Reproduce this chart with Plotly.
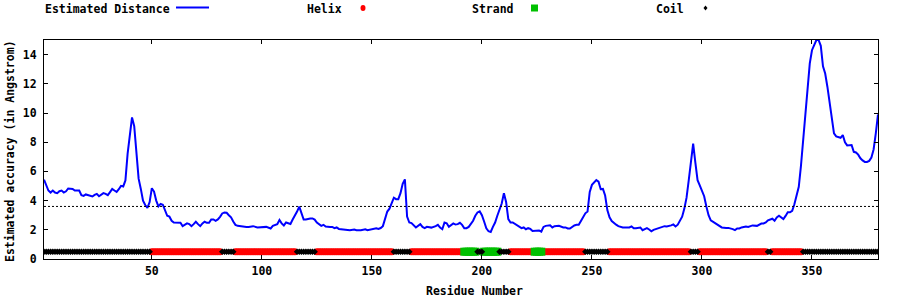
import plotly.graph_objects as go

# ---------------- data ----------------
RESIDUES = [
    1, 2, 3, 4, 5, 6, 7, 8, 9, 10, 11, 12, 14, 15, 16, 17, 18, 19, 20, 22, 23, 24, 25, 26, 27, 28, 29, 30,
    31, 32, 33, 34, 35, 36, 37, 38, 39, 40, 41, 42, 43, 44, 45, 46, 47, 48, 49, 50, 51, 52, 53, 54, 55, 56,
    57, 58, 59, 60, 62, 63, 64, 65, 66, 67, 68, 69, 70, 71, 72, 73, 74, 75, 76, 77, 78, 79, 80, 81, 82, 83,
    84, 85, 86, 87, 88, 89, 90, 91, 92, 93, 94, 96, 98, 101, 102, 104, 105, 107, 108, 109, 110, 111, 112,
    113, 114, 115, 116, 117, 118, 119, 120, 121, 122, 123, 124, 125, 126, 127, 128, 129, 131, 132, 133, 134,
    135, 137, 139, 140, 142, 143, 145, 146, 147, 148, 150, 151, 152, 153, 154, 155, 156, 157, 158, 159, 160,
    161, 162, 163, 164, 165, 166, 167, 168, 170, 171, 172, 173, 174, 175, 177, 179, 180, 181, 182, 183, 184,
    185, 186, 187, 188, 189, 190, 191, 192, 193, 194, 195, 196, 197, 198, 199, 200, 201, 202, 203, 204, 205,
    206, 207, 208, 209, 210, 211, 212, 213, 214, 215, 216, 217, 218, 219, 220, 221, 222, 223, 225, 226, 227,
    228, 229, 231, 232, 233, 235, 236, 237, 238, 239, 240, 242, 243, 244, 245, 246, 247, 248, 249, 250, 251,
    252, 253, 254, 255, 256, 257, 258, 259, 260, 261, 262, 263, 264, 266, 267, 268, 269, 270, 272, 273, 274,
    275, 276, 277, 278, 279, 281, 282, 283, 284, 285, 286, 287, 288, 289, 290, 291, 292, 293, 294, 295, 296,
    297, 298, 299, 300, 301, 302, 303, 304, 305, 306, 307, 308, 309, 311, 312, 314, 315, 316, 317, 318, 320,
    321, 322, 323, 325, 327, 328, 329, 330, 332, 333, 334, 335, 336, 337, 338, 339, 340, 341, 342, 343, 344,
    345, 346, 347, 348, 349, 350, 351, 352, 353, 354, 355, 356, 357, 358, 359, 360, 361, 362, 363, 364, 365,
    366, 367, 368, 369, 370, 371, 372, 373, 374, 375, 376, 377, 378, 379, 380,
]
DISTANCE = [
    5.43, 5.04, 4.69, 4.55, 4.69, 4.55, 4.51, 4.64, 4.69, 4.55, 4.64, 4.83, 4.80, 4.69, 4.69, 4.69, 4.37, 4.32,
    4.42, 4.35, 4.28, 4.39, 4.46, 4.30, 4.39, 4.51, 4.46, 4.37,
    4.58, 4.80, 4.69, 4.60, 4.78, 5.01, 4.97, 5.38, 7.22, 8.40, 9.70, 9.10, 7.20, 5.50, 4.80, 4.00, 3.70, 3.50,
    3.90, 4.85, 4.62, 4.00, 3.60, 3.77, 3.72, 3.30,
    2.96, 2.90, 2.62, 2.50, 2.48, 2.48, 2.25, 2.34, 2.44, 2.39, 2.25, 2.39, 2.55, 2.39, 2.25, 2.44, 2.55, 2.48,
    2.48, 2.71, 2.71, 2.62, 2.71, 2.89, 3.12, 3.19,
    3.17, 3.00, 2.85, 2.57, 2.34, 2.27, 2.25, 2.20, 2.20, 2.20, 2.20, 2.25, 2.16, 2.16, 2.20, 2.09, 2.27, 2.39,
    2.67, 2.44, 2.30, 2.50, 2.45,
    2.40, 2.70, 2.95, 3.25, 3.59, 3.10, 2.70, 2.70, 2.75, 2.78, 2.78, 2.70, 2.50, 2.37, 2.27, 2.34, 2.22, 2.20,
    2.20, 2.11, 2.16,
    2.06, 2.04, 1.97, 1.97, 2.02, 1.97, 1.97, 2.00, 2.04, 1.97, 2.04, 2.11, 2.11, 2.06, 2.12, 2.25, 2.73, 3.25,
    3.45, 3.85, 4.20,
    4.10, 4.10, 4.51, 5.15, 5.45, 2.90, 2.50, 2.46, 2.16, 2.27, 2.39, 2.20, 2.11, 2.20, 2.15, 2.25, 2.34, 2.15,
    2.04, 2.50, 2.45,
    2.20, 2.35, 2.44, 2.36, 2.39, 2.48, 2.34, 2.11, 2.11, 2.20, 2.39, 2.62, 2.96, 3.19, 3.26, 3.00, 2.57, 2.10,
    1.90, 1.85, 2.20,
    2.50, 2.96, 3.40, 3.80, 4.50, 3.90, 2.73, 2.50, 2.50, 2.40, 2.27, 2.20, 2.11, 2.16, 2.04, 2.11, 2.06, 1.92,
    1.97, 1.95, 1.88,
    2.20, 2.27, 2.31, 2.16, 2.25, 2.27, 2.20, 2.16, 2.16, 2.09, 2.09, 2.30, 2.34, 2.34, 2.60, 2.90, 3.13, 3.25,
    4.60, 5.08, 5.25,
    5.40, 5.30, 4.78, 4.80, 4.35, 3.35, 2.85, 2.60, 2.45, 2.35, 2.25, 2.20, 2.16, 2.16, 2.16, 2.23, 2.11, 2.11,
    2.16, 1.97, 2.02,
    2.11, 2.02, 1.90, 2.00, 2.05, 2.17, 2.20, 2.25, 2.23, 2.25, 2.30, 2.37, 2.23, 2.35, 2.60, 2.90, 3.45, 4.20,
    5.40, 6.80, 7.90,
    6.60, 5.40, 5.05, 4.70, 4.30, 3.60, 3.00, 2.65, 2.55, 2.50, 2.35, 2.25, 2.16, 2.13, 2.13, 2.05, 1.98, 2.09,
    2.09, 2.16, 2.23,
    2.20, 2.23, 2.30, 2.27, 2.43, 2.43, 2.50, 2.65, 2.76, 2.62, 2.85, 2.96, 2.85, 2.73, 2.95, 3.20, 3.20, 3.30,
    3.75, 4.45, 4.95,
    6.40, 8.10, 10.0, 11.95, 13.4, 14.3, 14.6, 15.0, 15.0, 14.6, 13.2, 12.7, 11.8, 10.6, 9.4, 8.6, 8.4, 8.35,
    8.3, 8.49, 8.0,
    7.78, 7.8, 7.81, 7.34, 7.3, 7.15, 6.9, 6.75, 6.65, 6.65, 6.72, 6.95, 7.5, 8.6, 9.9,
]
THRESHOLD = 3.6
SS_LEVEL = 0.5
SS_START = [1, 50, 82, 88, 116, 125, 160, 168, 192, 198, 201, 208, 213, 224, 228, 247, 258, 295, 299, 330, 332, 346]
SS_END = [49, 81, 87, 115, 124, 159, 167, 191, 197, 200, 207, 212, 223, 227, 246, 257, 294, 298, 329, 331, 345, 380]
SS_TYPE = ["Coil", "Helix", "Coil", "Helix", "Coil", "Helix", "Coil", "Helix", "Strand", "Coil", "Strand",
           "Coil", "Helix", "Strand", "Helix", "Coil", "Helix", "Coil", "Helix", "Coil", "Helix", "Coil"]
X_TICKS = [50, 100, 150, 200, 250, 300, 350]
Y_TICKS = [0, 2, 4, 6, 8, 10, 12, 14]
X_RANGE = [1, 380]
Y_RANGE = [0, 15]

# ---------------- styles ----------------
FONT = dict(family="DejaVu Sans Mono", size=11.5, color="black", weight="bold")
BLUE, RED, GREEN, BLACK = "#0000ff", "#ff0000", "#00c000", "#000000"
SS_STYLE = {
    "Helix": dict(color=RED, symbol="circle", size=7),
    "Strand": dict(color=GREEN, symbol="square", size=8),
    "Coil": dict(color=BLACK, symbol="diamond", size=5),
}

# plot area in pixels
L, R, T, B = 44, 878, 40, 259
W, H = 900, 300


def px_x(px):
    return (px - L) / (R - L)


def px_y(py):
    return (B - py) / (B - T)


fig = go.Figure()

fig.add_trace(go.Scatter(x=RESIDUES, y=DISTANCE, mode="lines",
                         line=dict(color=BLUE, width=2), name="Estimated Distance"))

for ss in ["Helix", "Strand", "Coil"]:
    xs = []
    for s, e, t in zip(SS_START, SS_END, SS_TYPE):
        if t == ss:
            xs.extend(range(s, e + 1))
    st = SS_STYLE[ss]
    fig.add_trace(go.Scatter(x=xs, y=[SS_LEVEL] * len(xs), mode="markers", name=ss,
                             marker=dict(color=st["color"], symbol=st["symbol"], size=st["size"],
                                         line=dict(width=0))))

fig.add_hline(y=THRESHOLD, line=dict(color="black", width=1, dash="2px,2px"), layer="above")

axis_common = dict(showline=True, linecolor="black", linewidth=1, mirror="ticks", ticks="inside",
                   ticklen=4, tickcolor="black", showgrid=False, zeroline=False, tickfont=FONT)

fig.update_layout(
    width=W, height=H, margin=dict(l=L, r=W - R, t=T, b=H - B),
    paper_bgcolor="white", plot_bgcolor="white", showlegend=False, font=FONT,
    xaxis=dict(range=X_RANGE, tickvals=X_TICKS, ticklabelstandoff=1, **axis_common),
    yaxis=dict(range=Y_RANGE, tickvals=Y_TICKS, ticklabelstandoff=4, **axis_common),
)

annotations = [
    dict(text="Residue Number", x=px_x(474), y=px_y(291), xref="paper", yref="paper",
         showarrow=False, xanchor="center", yanchor="middle", font=FONT),
    dict(text="Estimated accuracy (in Angstrom)", x=px_x(10), y=px_y(151), xref="paper", yref="paper",
         showarrow=False, xanchor="center", yanchor="middle", textangle=-90, font=FONT),
]
legend_items = [("Estimated Distance", 43), ("Helix", 305), ("Strand", 470), ("Coil", 654)]
for txt, x0 in legend_items:
    annotations.append(dict(text=txt, x=px_x(x0), y=px_y(9), xref="paper", yref="paper",
                            showarrow=False, xanchor="left", yanchor="middle", font=FONT))
fig.update_layout(annotations=annotations)

# legend samples
fig.add_shape(type="line", xref="paper", yref="paper", x0=px_x(176), x1=px_x(209),
              y0=px_y(7.5), y1=px_y(7.5), line=dict(color=BLUE, width=2))
fig.add_shape(type="circle", xref="paper", yref="paper", xsizemode="pixel", ysizemode="pixel",
              xanchor=px_x(363), yanchor=px_y(8), x0=-2.5, x1=2.5, y0=-3, y1=3,
              fillcolor=RED, line=dict(width=0))
fig.add_shape(type="rect", xref="paper", yref="paper", xsizemode="pixel", ysizemode="pixel",
              xanchor=px_x(534.5), yanchor=px_y(8), x0=-3.5, x1=3.5, y0=-3.5, y1=3.5,
              fillcolor=GREEN, line=dict(width=0))
fig.add_shape(type="path", xref="paper", yref="paper", xsizemode="pixel", ysizemode="pixel",
              xanchor=px_x(705.5), yanchor=px_y(8), path="M -2 0 L 0 2.5 L 2 0 L 0 -2.5 Z",
              fillcolor=BLACK, line=dict(width=0))

fig.write_html("out.html")
